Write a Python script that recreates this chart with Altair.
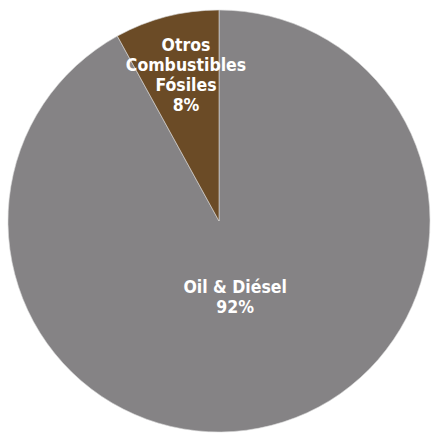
import altair as alt
import pandas as pd

categories = ["Oil & Diésel", "Otros Combustibles Fósiles"]
labels = ["Oil & Diésel\n92%", "Otros\nCombustibles\nFósiles\n8%"]
values = [92, 8]
colors = ["#858385", "#6b4b26"]

df = pd.DataFrame({"cat": categories, "label": labels, "value": values, "order": [0, 1]})

stacked = alt.Chart(df).transform_window(
    end="sum(value)", sort=[alt.SortField("order")], frame=[None, 0]
).transform_calculate(
    start="datum.end - datum.value", mid="datum.end - datum.value / 2"
)

pie = stacked.mark_arc(outerRadius=211, stroke="#d9d9d9", strokeWidth=0.6).encode(
    theta=alt.Theta("start:Q", scale=alt.Scale(domain=[0, 100])),
    theta2="end:Q",
    color=alt.Color("cat:N", scale=alt.Scale(domain=categories, range=colors), legend=None),
    x=alt.value(219), y=alt.value(221),
)

def label_layer(cat, r, dx):
    return stacked.transform_filter(alt.datum.cat == cat).mark_text(
        radius=r, dx=dx, font="DejaVu Sans Condensed", fontWeight="bold", fontSize=17.5,
        color="white", lineBreak="\n", lineHeight=20, align="center", baseline="middle",
    ).encode(
        theta=alt.Theta("mid:Q", scale=alt.Scale(domain=[0, 100])),
        text="label:N", x=alt.value(219), y=alt.value(221),
    )

chart = alt.layer(
    pie,
    label_layer(categories[0], 69, -1),
    label_layer(categories[1], 181, 12),
).properties(width=434, height=434, padding=0, autosize=alt.AutoSizeParams(type="none")).configure_view(stroke=None)

chart.save("out.html", embed_options={"renderer": "svg", "actions": False})
